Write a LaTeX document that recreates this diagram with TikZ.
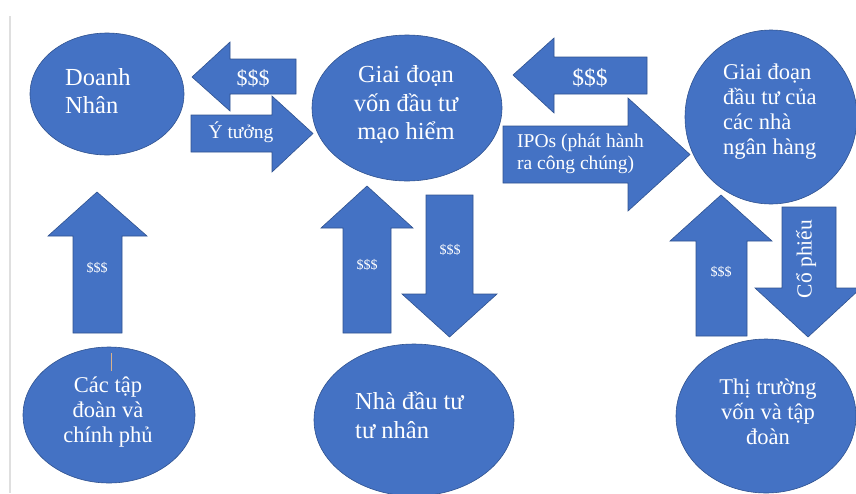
\documentclass[tikz,border=0pt]{standalone}
\usepackage{fontspec}
\setmainfont{Liberation Serif}
\usetikzlibrary{shapes.geometric}

\definecolor{officeblue}{HTML}{4472C4}
\definecolor{officeline}{HTML}{2F528F}

\tikzset{
  blk/.style={fill=officeblue,draw=officeline,line width=0.6pt},
  oval/.style={blk,ellipse,inner sep=0pt},
  lbl/.style={text=white,inner sep=0pt},
  bigtxt/.style={lbl,font=\fontsize{24.5}{28.5}\selectfont},
  midtxt/.style={lbl,font=\fontsize{22.5}{25}\selectfont},
  smalltxt/.style={lbl,font=\fontsize{19.5}{22}\selectfont},
  tinytxt/.style={lbl,font=\fontsize{14}{16}\selectfont}
}

\begin{document}
\begin{tikzpicture}[x=1pt,y=-1pt]

  \useasboundingbox (0,0) rectangle (856,493);
  \draw[line width=1.2pt,gray!25] (10,16) -- (10,493);

  % ovals
  \node[oval,minimum width=154pt,minimum height=122pt] (dn) at (107,94) {};
  \node[oval,minimum width=190pt,minimum height=146pt] (vc) at (407,108) {};
  \node[oval,minimum width=172pt,minimum height=174pt] (nh) at (771,117) {};
  \node[oval,minimum width=172pt,minimum height=136pt] (cp) at (109,415) {};
  \node[oval,minimum width=200pt,minimum height=152pt] (nd) at (414,420) {};
  \node[oval,minimum width=180pt,minimum height=154pt] (tt) at (766,416) {};

  \node[bigtxt,anchor=west,align=left] (dn-t) at (65,91) {Doanh\\Nhân};
  \node[bigtxt,align=center] (vc-t) at (406,105) {Giai đoạn\\vốn đầu tư\\mạo hiểm};
  \node[midtxt,anchor=west,align=left] (nh-t) at (723,112) {Giai đoạn\\đầu tư của\\các nhà\\ngân hàng};
  \node[midtxt,align=center] (cp-t) at (108,412) {Các tập\\đoàn và\\chính phủ};
  \node[bigtxt,anchor=west,align=left] (nd-t) at (355,415) {Nhà đầu tư\\tư nhân};
  \node[midtxt,align=center] (tt-t) at (768,412) {Thị trường\\vốn và tập\\đoàn};

  \draw[brown!60,line width=0.4pt] (111,353) -- (111,371);

  % top row arrows
  \draw[blk] (192,77) -- (230,42) -- (230,59) -- (296,59) -- (296,94) -- (230,94) -- (230,111) -- cycle;
  \node[bigtxt,font=\fontsize{22}{24}\selectfont] (a1) at (253,78) {\$\$\$};

  \draw[blk] (191,115) -- (272,115) -- (272,96) -- (313,133.5) -- (272,172) -- (272,152) -- (191,152) -- cycle;
  \node[smalltxt] (a2) at (241,132) {Ý tưởng};

  \draw[blk] (513,75) -- (554,38) -- (554,57) -- (647,57) -- (647,94) -- (554,94) -- (554,113) -- cycle;
  \node[bigtxt,font=\fontsize{23.5}{25}\selectfont] (a3) at (590,78) {\$\$\$};

  \draw[blk] (503,126) -- (628,126) -- (628,98) -- (690,154.5) -- (628,211) -- (628,183) -- (503,183) -- cycle;
  \node[smalltxt,anchor=west,align=left] (a4) at (517,154) {IPOs (phát hành\\ra công chúng)};

  % vertical arrows
  \draw[blk] (97,192) -- (147,236) -- (122,236) -- (122,333) -- (73,333) -- (73,236) -- (48,236) -- cycle;
  \node[tinytxt] (a5) at (97,268) {\$\$\$};

  \draw[blk] (367,186) -- (413,228) -- (391,228) -- (391,333) -- (343,333) -- (343,228) -- (321,228) -- cycle;
  \node[tinytxt] (a6) at (367,265) {\$\$\$};

  \draw[blk] (426,195) -- (473,195) -- (473,294) -- (497,294) -- (449.5,337) -- (402,294) -- (426,294) -- cycle;
  \node[tinytxt] (a7) at (450,250) {\$\$\$};

  \draw[blk] (721,195) -- (772,241) -- (747,241) -- (747,336) -- (696,336) -- (696,241) -- (670,241) -- cycle;
  \node[tinytxt] (a8) at (721,272) {\$\$\$};

  \draw[blk] (782,207) -- (836,207) -- (836,288) -- (861,288) -- (808,337) -- (755,288) -- (782,288) -- cycle;
  \node[midtxt,font=\fontsize{21.5}{24}\selectfont,rotate=90] (a9) at (806,259) {Cổ phiếu};

\end{tikzpicture}
\end{document}
